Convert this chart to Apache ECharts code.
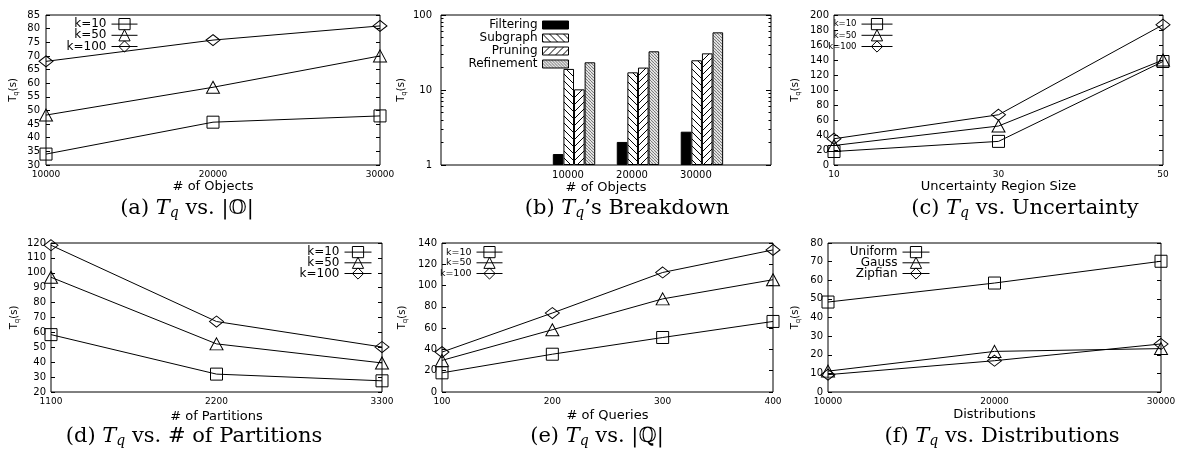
<!DOCTYPE html>
<html><head><meta charset="utf-8">
<script src="https://cdn.jsdelivr.net/npm/echarts@6/dist/echarts.min.js"></script>
<style>html,body{margin:0;padding:0;background:#fff}#c{width:1180px;height:459px}</style>
</head><body><div id="c"></div>
<script>
// ---------- DATA ----------
// (a) Tq vs |O|
const aCats = ['10000', '20000', '30000'];
const aK10 = [34, 45.7, 48];
const aK50 = [48.3, 58.5, 70];
const aK100 = [68, 75.8, 81];
// (b) Tq's breakdown (log scale)
const bCats = ['10000', '20000', '30000'];
const bPos = [1, 2, 3];
const bFiltering = [1.4, 2.03, 2.78];
const bSubgraph = [19.1, 17.2, 24.9];
const bPruning = [10.2, 19.9, 30.8];
const bRefinement = [23.4, 32.8, 58.7];
const bMinorTicks = [2, 3, 4, 5, 6, 7, 8, 9, 20, 30, 40, 50, 60, 70, 80, 90];
// (c) Tq vs uncertainty
const cCats = ['10', '30', '50'];
const cK10 = [18, 31.5, 138];
const cK50 = [26, 52, 140];
const cK100 = [35, 67, 187];
// (d) Tq vs # of partitions
const dCats = ['1100', '2200', '3300'];
const dK10 = [58.5, 32, 27.5];
const dK50 = [97, 52.3, 39.5];
const dK100 = [118.5, 67.3, 50.2];
// (e) Tq vs |Q|
const eCats = ['100', '200', '300', '400'];
const eK10 = [18, 35.5, 51.2, 66.3];
const eK50 = [29.7, 58.5, 87.5, 105.5];
const eK100 = [37.5, 74.2, 112.3, 133.5];
// (f) Tq vs distributions
const fCats = ['10000', '20000', '30000'];
const fUniform = [48.3, 58.5, 70.2];
const fGauss = [11.2, 21.8, 23.3];
const fZipfian = [9.3, 16.8, 25.8];

const kNames = ['k=10', 'k=50', 'k=100'];
const distNames = ['Uniform', 'Gauss', 'Zipfian'];
const barNames = ['Filtering', 'Subgraph', 'Pruning', 'Refinement'];

// ---------- STYLE HELPERS ----------
const SANS = 'DejaVu Sans';
const SERIF = 'DejaVu Serif';

function hatch(dir, fg, gap, lw) {
  const c = document.createElement('canvas');
  c.width = gap; c.height = gap;
  const ctx = c.getContext('2d');
  ctx.fillStyle = '#fff'; ctx.fillRect(0, 0, gap, gap);
  ctx.strokeStyle = fg; ctx.lineWidth = lw;
  for (let k = -1; k <= 1; k++) {
    ctx.beginPath();
    if (dir === '\\') { ctx.moveTo(k * gap, 0); ctx.lineTo(k * gap + gap, gap); }
    else { ctx.moveTo(k * gap + gap, 0); ctx.lineTo(k * gap, gap); }
    ctx.stroke();
  }
  return { image: c, repeat: 'repeat' };
}

const gridBoxes = [
  { left: 46, top: 15, width: 334, height: 150 },
  { left: 441, top: 15, width: 330, height: 150 },
  { left: 834, top: 15, width: 329, height: 150 },
  { left: 51, top: 243, width: 331, height: 149 },
  { left: 442, top: 243, width: 331, height: 149 },
  { left: 828, top: 243, width: 333, height: 149 }
];
const grids = gridBoxes.map(g => Object.assign({
  show: true, borderColor: '#000', borderWidth: 1, backgroundColor: 'transparent',
  containLabel: false, outerBoundsMode: 'none'
}, g));

const yName = {
  name: '{t|T}{q|q}{s|(s)}',
  nameLocation: 'middle',
  nameTextStyle: {
    color: '#000', fontFamily: SANS, fontSize: 10,
    rich: {
      t: { fontFamily: SANS, fontSize: 10, color: '#000' },
      q: { fontFamily: SANS, fontSize: 7, color: '#000', padding: [6, 0, 0, 0] },
      s: { fontFamily: SANS, fontSize: 10, color: '#000' }
    }
  }
};
const noLine = { show: false, onZero: false };

const xAxes = [];
const yAxes = [];
function catX(gi, cats, name, gap) {
  xAxes.push({
    type: 'category', gridIndex: gi, data: cats, boundaryGap: false,
    axisLine: noLine, axisTick: { show: false },
    axisLabel: { interval: 0, margin: 5, fontFamily: SANS, fontSize: 9, color: '#000' },
    splitLine: { show: false },
    name: name, nameLocation: 'middle', nameGap: gap,
    nameTextStyle: { fontFamily: SANS, fontSize: 13, color: '#000' }
  });
  return xAxes.length - 1;
}
function valY(gi, min, max, interval, nameGap, margin) {
  const tick = { show: true, inside: true, length: 4, lineStyle: { color: '#000', width: 1 } };
  yAxes.push(Object.assign({
    type: 'value', gridIndex: gi, min, max, interval, position: 'left',
    axisLine: noLine, axisTick: tick,
    axisLabel: { margin: margin, fontFamily: SANS, fontSize: 10, color: '#000' },
    splitLine: { show: false }, nameGap: nameGap
  }, yName));
  const idx = yAxes.length - 1;
  yAxes.push({
    type: 'value', gridIndex: gi, min, max, interval, position: 'right',
    axisLine: noLine, axisTick: tick, axisLabel: { show: false }, splitLine: { show: false }
  });
  return idx;
}

const series = [];
const syms = ['rect', 'triangle', 'diamond'];
const symSizes = [12, [13, 12], [14, 11]];
function addLines(xi, yi, names, datas) {
  names.forEach((n, i) => series.push({
    type: 'line', name: n, xAxisIndex: xi, yAxisIndex: yi, data: datas[i],
    symbol: syms[i], symbolSize: symSizes[i], showAllSymbol: true,
    itemStyle: { color: 'transparent', borderColor: '#000', borderWidth: 1 },
    lineStyle: { color: '#000', width: 1 }, silent: true, emphasis: { disabled: true }, z: 3 + i
  }));
}

// (a)
{
  const xi = catX(0, aCats, '# of Objects', 15);
  const yi = valY(0, 30, 85, 5, 26, 6);
  addLines(xi, yi, kNames, [aK10, aK50, aK100]);
}
// (b)
{
  xAxes.push({
    type: 'value', gridIndex: 1, min: -1.08, max: 4.08,
    axisLine: noLine, axisTick: { show: false }, splitLine: { show: false },
    axisLabel: {
      customValues: bPos, formatter: v => bCats[bPos.indexOf(v)] || '',
      margin: 5, fontFamily: SANS, fontSize: 10, color: '#000', padding: [0, 12, 0, 0]
    },
    name: '# of Objects', nameLocation: 'middle', nameGap: 15,
    nameTextStyle: { fontFamily: SANS, fontSize: 13, color: '#000' }
  });
  const xi = xAxes.length - 1;
  const tick = { show: true, inside: true, length: 5, lineStyle: { color: '#000', width: 1 } };
  yAxes.push(Object.assign({
    type: 'log', logBase: 10, gridIndex: 1, min: 1, max: 100, position: 'left',
    axisLine: noLine, axisTick: tick,
    axisLabel: { margin: 9, fontFamily: SANS, fontSize: 10, color: '#000' },
    splitLine: { show: false }, nameGap: 33
  }, yName));
  const yi = yAxes.length - 1;
  yAxes.push({ type: 'log', logBase: 10, gridIndex: 1, min: 1, max: 100, position: 'right',
    axisLine: noLine, axisTick: tick, axisLabel: { show: false }, splitLine: { show: false } });
  // minor log ticks: hidden linear axes over the log10 range [0, 2]
  const minorPos = bMinorTicks.map(v => Math.log10(v));
  const minor = { show: true, inside: true, length: 2.5, customValues: minorPos, lineStyle: { color: '#000', width: 1 } };
  ['left', 'right'].forEach(p => yAxes.push({ type: 'value', gridIndex: 1, min: 0, max: 2, position: p,
    axisLine: noLine, axisTick: minor, axisLabel: { show: false }, splitLine: { show: false } }));
  const fills = ['#000', hatch('\\', '#000', 7, 1), hatch('/', '#000', 7, 1), hatch('\\', '#777', 3, 1.1)];
  [bFiltering, bSubgraph, bPruning, bRefinement].forEach((vals, i) => series.push({
    type: 'bar', name: barNames[i], xAxisIndex: xi, yAxisIndex: yi,
    data: vals.map((v, j) => [bPos[j], v]),
    barWidth: 10.6, barGap: '0%',
    itemStyle: { color: fills[i], borderColor: '#000', borderWidth: 1 },
    silent: true, emphasis: { disabled: true }
  }));
}
// (c)
{
  const xi = catX(2, cCats, 'Uncertainty Region Size', 15);
  const yi = valY(2, 0, 200, 20, 32, 5);
  addLines(xi, yi, kNames, [cK10, cK50, cK100]);
}
// (d)
{
  const xi = catX(3, dCats, '# of Partitions', 18);
  const yi = valY(3, 20, 120, 10, 30, 5);
  addLines(xi, yi, kNames, [dK10, dK50, dK100]);
}
// (e)
{
  const xi = catX(4, eCats, '# of Queries', 17);
  const yi = valY(4, 0, 140, 20, 33, 5);
  addLines(xi, yi, kNames, [eK10, eK50, eK100]);
}
// (f)
{
  const xi = catX(5, fCats, 'Distributions', 16);
  const yi = valY(5, 0, 80, 10, 26, 5);
  addLines(xi, yi, distNames, [fUniform, fGauss, fZipfian]);
}

function legend(names, o, fs) {
  return Object.assign({
    data: names, orient: 'vertical', align: 'right', padding: 0,
    itemWidth: 26, itemHeight: 14, itemGap: -1, selectedMode: false,
    itemStyle: { color: 'transparent', borderColor: '#000', borderWidth: 1 },
    lineStyle: { color: '#000', width: 1 },
    textStyle: { fontFamily: SANS, fontSize: fs || 12, color: '#000' }
  }, o);
}
const legends = [
  legend(kNames, { right: 1042, top: 18 }),
  legend(barNames, { right: 611, top: 19, itemHeight: 8, itemGap: 1, icon: 'rect',
    itemStyle: { borderColor: '#000', borderWidth: 1 } }),
  legend(kNames, { right: 287, top: 18, itemWidth: 31 }, 8.5),
  legend(kNames, { right: 808, top: 246, itemGap: -1.5, itemWidth: 27 }),
  legend(kNames, { right: 677, top: 246, itemGap: -1.5 }, 9.5),
  legend(distNames, { right: 250, top: 246, itemGap: -1.5, itemWidth: 27 })
];

function caption(x, y, text) {
  return {
    type: 'text', x: x, y: y, silent: true,
    style: {
      text: text, fill: '#000', fontFamily: SERIF, fontSize: 21, align: 'center', verticalAlign: 'middle',
      rich: {
        T: { fontFamily: SERIF, fontStyle: 'italic', fontSize: 21, fill: '#000' },
        q: { fontFamily: SERIF, fontStyle: 'italic', fontSize: 14, fill: '#000', padding: [9, 0, 0, 0] }
      }
    }
  };
}
const graphics = [
  caption(187, 209, '(a) {T|T}{q|q} vs. |𝕆|'),
  caption(627, 209, '(b) {T|T}{q|q}’s Breakdown'),
  caption(1025, 209, '(c) {T|T}{q|q} vs. Uncertainty'),
  caption(194, 437, '(d) {T|T}{q|q} vs. # of Partitions'),
  caption(597, 437, '(e) {T|T}{q|q} vs. |ℚ|'),
  caption(1002, 437, '(f) {T|T}{q|q} vs. Distributions')
];

const chart = echarts.init(document.getElementById('c'), null, { renderer: 'canvas' });
chart.setOption({
  animation: false,
  backgroundColor: '#fff',
  textStyle: { fontFamily: SANS },
  tooltip: { show: false },
  grid: grids,
  xAxis: xAxes,
  yAxis: yAxes,
  legend: legends,
  series: series,
  graphic: graphics
});
</script></body></html>
